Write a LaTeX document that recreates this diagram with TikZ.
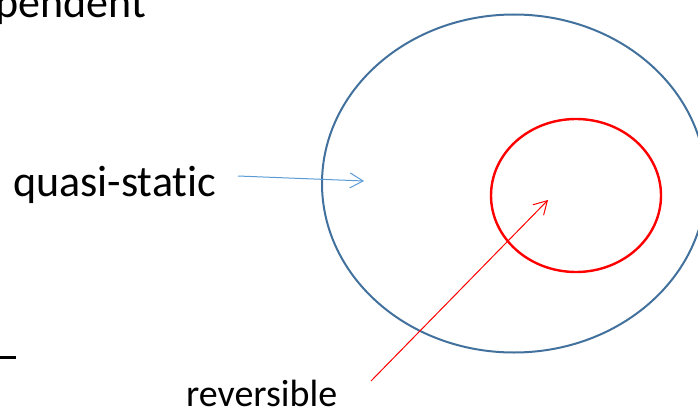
\documentclass[tikz,border=0pt]{standalone}
\usepackage{fontspec}
\setmainfont[Ligatures=NoCommon]{Carlito}
\usetikzlibrary{arrows.meta,shapes.geometric}
\definecolor{outerblue}{HTML}{41719C}
\definecolor{arrowblue}{HTML}{5B9BD5}
\definecolor{innerred}{HTML}{FF0000}
\begin{document}
\begin{tikzpicture}[x=1pt,y=-1pt,
  biglbl/.style={inner sep=0pt, font=\fontsize{44}{52}\selectfont},
  smalllbl/.style={inner sep=0pt, font=\fontsize{38}{46}\selectfont},
  setring/.style={ellipse, inner sep=0pt, outer sep=0pt},
  pointer/.style={-{Straight Barb[length=13pt,width=15pt]}, line width=1pt}]
\useasboundingbox (0,0) rectangle (698,412);
\clip (0,0) rectangle (698,412);
\node (quasiset) [setring, draw=outerblue, line width=2pt, minimum width=384pt, minimum height=338pt] at (514,183.5) {};
\node (revset) [setring, draw=innerred, line width=2.4pt, minimum width=170pt, minimum height=153pt] at (576,195.5) {};
\node (pend) [biglbl, anchor=base east] at (146,18) {pendent};
\node (quasi) [biglbl, anchor=base west] at (13,196) {quasi-static};
\node (rev) [smalllbl, anchor=base west] at (186,406) {reversible};
\coordinate (qtail) at (238,176);
\coordinate (qhead) at (364,181);
\coordinate (rtail) at (371,381);
\coordinate (rhead) at (548,200);
\coordinate (dashl) at (0,357);
\coordinate (dashr) at (16,357);
\draw[pointer, arrowblue] (qtail) -- (qhead);
\draw[pointer, innerred] (rtail) -- (rhead);
\draw[line width=3pt] (dashl) -- (dashr);
\end{tikzpicture}
\end{document}
